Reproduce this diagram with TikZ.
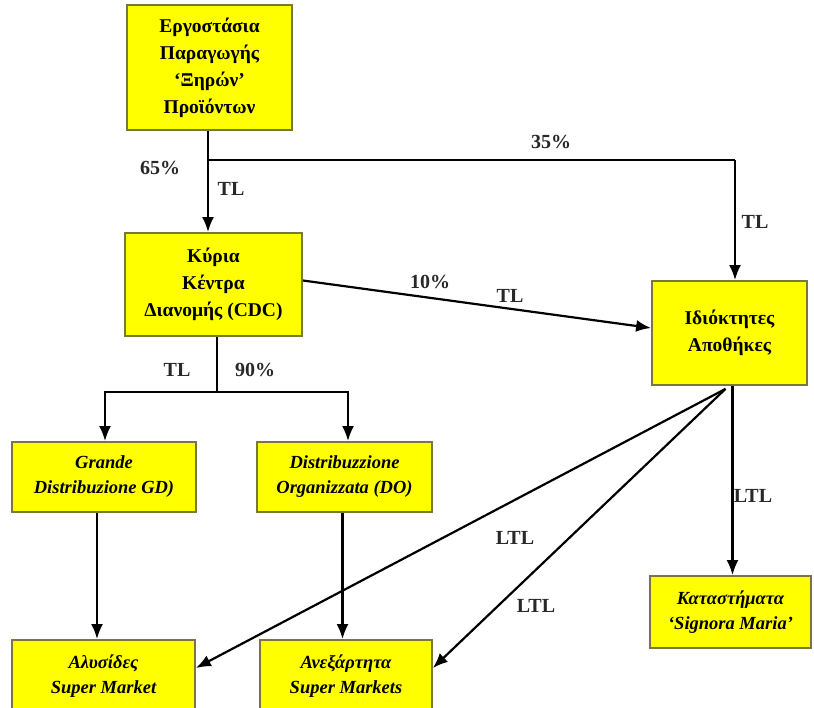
\documentclass[tikz,border=0pt]{standalone}
\usepackage{fontspec}
\setmainfont{Liberation Serif}
\usetikzlibrary{arrows.meta}
\definecolor{boxedge}{RGB}{120,120,60}
\definecolor{boxfill}{RGB}{255,255,0}
\definecolor{lbltext}{RGB}{40,40,40}
\begin{document}
\begin{tikzpicture}[x=1pt,y=-1pt,
  box/.style={draw=boxedge, fill=boxfill, line width=1.8pt, align=center,
    font=\bfseries\fontsize{19.5}{27}\selectfont, inner sep=2pt},
  ibox/.style={box, font=\bfseries\itshape\fontsize{18.5}{25}\selectfont},
  conn/.style={line width=2.2pt, -{Latex[length=15pt,width=12pt]}},
  plain/.style={line width=2.2pt},
  lbl/.style={font=\bfseries\fontsize{20}{22}\selectfont, text=lbltext}]
\useasboundingbox (0,0) rectangle (814,708);
% boxes
\node[box, minimum width=165pt, minimum height=125pt] (fac) at (209.5,67.5)
  {Εργοστάσια\\Παραγωγής\\‘Ξηρών’\\Προϊόντων};
\node[box, minimum width=177pt, minimum height=103pt] (cdc) at (213.5,284.5)
  {Κύρια\\Κέντρα\\Διανομής (CDC)};
\node[box, minimum width=155pt, minimum height=104pt] (own) at (729.5,333)
  {Ιδιόκτητες\\Αποθήκες};
\node[ibox, minimum width=184pt, minimum height=70pt] (gd) at (104,477)
  {Grande\\Distribuzione GD)};
\node[ibox, minimum width=175pt, minimum height=70pt] (do) at (344.5,477)
  {Distribuzzione\\Organizzata (DO)};
\node[ibox, minimum width=161pt, minimum height=72pt] (sm) at (730.5,612)
  {Καταστήματα\\‘Signora Maria’};
\node[ibox, minimum width=183pt, minimum height=72pt] (chain) at (103.5,676)
  {Αλυσίδες\\Super Market};
\node[ibox, minimum width=172pt, minimum height=72pt] (indep) at (346,676)
  {Ανεξάρτητα\\Super Markets};
% coordinates
\coordinate (b1) at (208,160);
\coordinate (c1) at (735,160);
\coordinate (s) at (217,392);
% connectors
\draw[conn] ([xshift=-1.5pt]fac.south) -- ([xshift=-1.5pt]fac.south |- cdc.north);
\draw[plain] (b1) -- (c1);
\draw[conn] (c1) -- (c1 |- own.north);
\draw[conn] ([yshift=4pt]cdc.east) -- ([yshift=5pt]own.west);
\draw[plain] (s |- cdc.south) -- (s);
\draw[conn] (s) -| ([xshift=1pt]gd.north);
\draw[conn] (s) -| ([xshift=3.5pt]do.north);
\draw[conn] ([xshift=-7pt]gd.south) -- ([xshift=-7pt]gd.south |- chain.north);
\draw[conn] ([xshift=-2pt]do.south) -- ([xshift=-2pt]do.south |- indep.north);
\draw[conn] ([xshift=3pt]own.south) -- ([xshift=3pt]own.south |- sm.north);
\draw[conn] ([xshift=-4pt,yshift=-3pt]own.south) -- ([yshift=8pt]chain.east);
\draw[conn] ([xshift=-4pt,yshift=-3pt]own.south) -- ([yshift=8pt]indep.east);
% labels
\node[lbl] (l65) at (160,168) {65\%};
\node[lbl] (ltl1) at (231,189) {TL};
\node[lbl] (l35) at (551,142) {35\%};
\node[lbl] (ltl2) at (755,222) {TL};
\node[lbl] (l10) at (430,282) {10\%};
\node[lbl] (ltl3) at (510,296) {TL};
\node[lbl] (ltl4) at (177,370) {TL};
\node[lbl] (l90) at (255,370) {90\%};
\node[lbl] (ltl5) at (753,496) {LTL};
\node[lbl] (ltl6) at (515,538) {LTL};
\node[lbl] (ltl7) at (536,606) {LTL};
\end{tikzpicture}
\end{document}
